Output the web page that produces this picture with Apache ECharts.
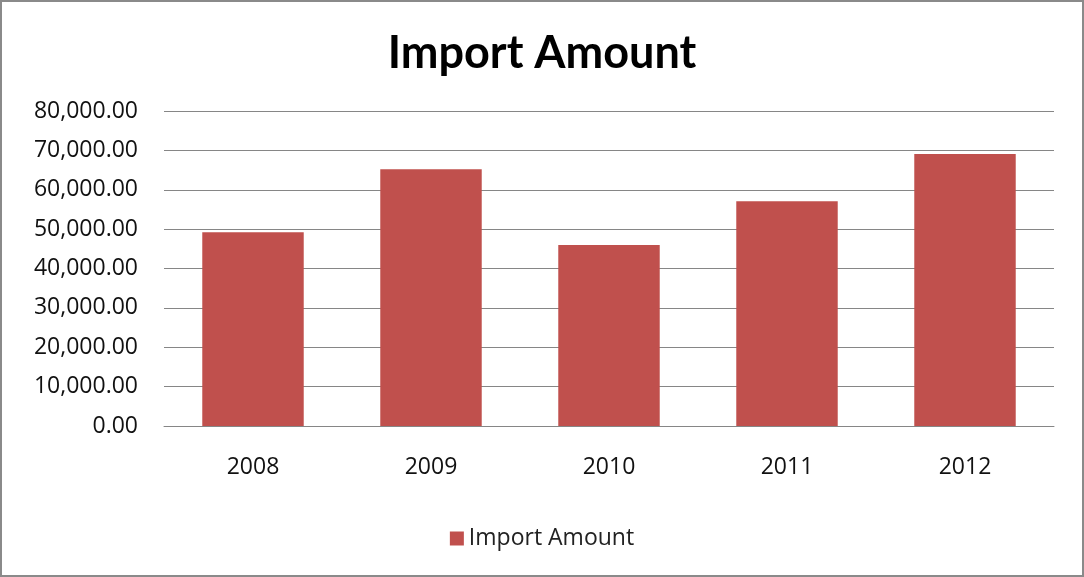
<!DOCTYPE html>
<html>
<head>
<meta charset="utf-8">
<script src="https://cdn.jsdelivr.net/npm/echarts@6/dist/echarts.min.js"></script>
<style>
	html, body { margin: 0; padding: 0; background: #fff; }
	#chart { width: 1084px; height: 577px; }
</style>
</head>
<body>
<div id="chart"></div>
<script>
var years = ['2008', '2009', '2010', '2011', '2012'];
var importAmount = [49200, 65200, 46000, 57100, 69100];
var yTicks = [0, 10000, 20000, 30000, 40000, 50000, 60000, 70000, 80000];

var chart = echarts.init(document.getElementById('chart'));
var option = {
	color: ['#C0504D'],
	animation: false,
	textStyle: { fontFamily: '"Open Sans", sans-serif' },
	graphic: [{
		type: 'rect',
		shape: { x: 1, y: 1, width: 1082, height: 575 },
		style: { fill: 'none', stroke: '#8a8a8a', lineWidth: 2 }
	}],
	title: {
		text: 'Import Amount',
		left: 'center',
		top: 26,
		textStyle: { fontSize: 45, fontWeight: 'bold', color: '#000', fontFamily: 'Lato, sans-serif' }
	},
	grid: {
		left: 164,
		right: 30,
		top: 111,
		bottom: 151
	},
	legend: {
		data: ['Import Amount'],
		bottom: 22,
		left: 'center',
		icon: 'rect',
		itemWidth: 14,
		itemHeight: 14,
		itemGap: 8,
		textStyle: { fontSize: 23, color: '#222', fontFamily: '"Open Sans", sans-serif' }
	},
	xAxis: {
		type: 'category',
		data: years,
		axisLine: { lineStyle: { color: '#868686', width: 1 } },
		axisTick: { show: false },
		axisLabel: { color: '#111', fontSize: 23, margin: 30, fontFamily: '"Open Sans", sans-serif' }
	},
	yAxis: {
		type: 'value',
		min: yTicks[0],
		max: yTicks[yTicks.length - 1],
		interval: 10000,
		axisLine: { show: false },
		axisTick: { show: false },
		splitLine: { lineStyle: { color: '#868686', width: 1 } },
		axisLabel: {
			color: '#111',
			fontSize: 23,
			margin: 26,
			fontFamily: '"Open Sans", sans-serif',
			formatter: function(v){
				return v.toLocaleString('en-US', { minimumFractionDigits: 2, maximumFractionDigits: 2 });
			}
		}
	},
	series: [{
		name: 'Import Amount',
		type: 'bar',
		barCategoryGap: '43%',
		data: importAmount
	}]
};
chart.setOption(option);
</script>
</body>
</html>
